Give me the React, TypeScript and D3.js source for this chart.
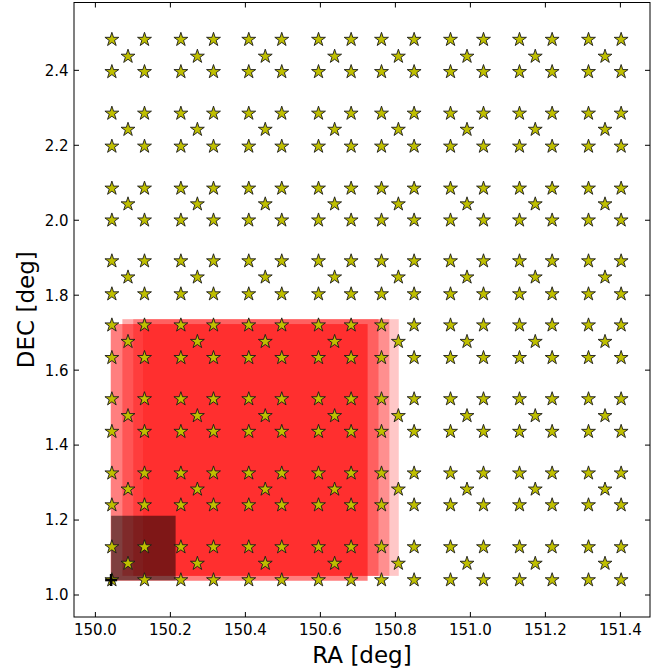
import React from "react";
import * as d3 from "d3";

// Star (pointing) positions: corner grid and centre (dithered) grid
const cornerRA = [150.044, 150.131, 150.228, 150.315, 150.409, 150.497, 150.595, 150.682, 150.763, 150.850, 150.947, 151.035, 151.131, 151.218, 151.315, 151.402];
const cornerDec = [1.040, 1.128, 1.240, 1.325, 1.436, 1.523, 1.633, 1.720, 1.803, 1.891, 2.000, 2.085, 2.197, 2.285, 2.396, 2.482];
const centerRA = [150.087, 150.272, 150.453, 150.638, 150.808, 150.991, 151.173, 151.359];
const centerDec = [1.084, 1.282, 1.478, 1.676, 1.848, 2.043, 2.242, 2.437];

// Red footprints: [raMin, raMax, decMin, decMax]
const footprints = [
  [150.041, 150.726, 1.038, 1.723],
  [150.072, 150.755, 1.051, 1.736],
  [150.101, 150.784, 1.051, 1.736],
  [150.127, 150.809, 1.051, 1.736],
];
const footprintAlpha = [0.5, 0.33, 0.28, 0.22];

// Dark box
const darkBox = [150.042, 150.214, 1.039, 1.2115];
// Cross marker
const crossPoint = [150.042, 1.040];

const xTicks = [150.0, 150.2, 150.4, 150.6, 150.8, 151.0, 151.2, 151.4];
const yTicks = [1.0, 1.2, 1.4, 1.6, 1.8, 2.0, 2.2, 2.4];

const W = 651, H = 672;
const L = 74, R = 650, T = 2.5, B = 617;

export default function App() {
  const x = d3.scaleLinear().domain([149.943, 151.479]).range([L, R]);
  const y = d3.scaleLinear().domain([0.9413, 2.581]).range([B, T]);
  const star = d3.symbol().type(d3.symbolStar).size(60)() as string;

  const stars: [number, number][] = [];
  cornerDec.forEach((d) => cornerRA.forEach((r) => stars.push([r, d])));
  centerDec.forEach((d) => centerRA.forEach((r) => stars.push([r, d])));

  const font = "DejaVu Sans, sans-serif";
  const cx = x(crossPoint[0]), cy = y(crossPoint[1]);

  return (
    <svg width={W} height={H} style={{ position: "absolute", left: 0, top: 0, background: "#fff" }} fontFamily={font}>
      <defs>
        <clipPath id="plot">
          <rect x={L} y={T} width={R - L} height={B - T} />
        </clipPath>
      </defs>
      <g clipPath="url(#plot)">
        {footprints.map((f, i) => (
          <rect key={i} x={x(f[0])} y={y(f[3])} width={x(f[1]) - x(f[0])} height={y(f[2]) - y(f[3])}
            fill="#ff0000" fillOpacity={footprintAlpha[i]} />
        ))}
        <rect x={x(darkBox[0])} y={y(darkBox[3])} width={x(darkBox[1]) - x(darkBox[0])} height={y(darkBox[2]) - y(darkBox[3])}
          fill="#000" fillOpacity={0.5} />
        {stars.map((s, i) => (
          <path key={i} d={star} transform={`translate(${x(s[0])},${y(s[1])})`} fill="#bfbf00" stroke="#1a1a1a" strokeWidth={0.9} strokeLinejoin="miter" />
        ))}
        <g stroke="#000" strokeWidth={2.6}>
          <line x1={cx - 6} x2={cx + 6} y1={cy} y2={cy} />
          <line x1={cx} x2={cx} y1={cy - 6} y2={cy + 6} />
        </g>
      </g>
      {/* spines */}
      <rect x={L} y={T} width={R - L} height={B - T} fill="none" stroke="#000" strokeWidth={1} />
      {/* ticks */}
      <g stroke="#000" strokeWidth={1}>
        {xTicks.map((t) => (
          <g key={t}>
            <line x1={x(t)} x2={x(t)} y1={B} y2={B - 5} />
            <line x1={x(t)} x2={x(t)} y1={T} y2={T + 5} />
          </g>
        ))}
        {yTicks.map((t) => (
          <g key={t}>
            <line x1={L} x2={L + 5} y1={y(t)} y2={y(t)} />
            <line x1={R} x2={R - 5} y1={y(t)} y2={y(t)} />
          </g>
        ))}
      </g>
      <g fontSize={15} fill="#000">
        {xTicks.map((t) => (
          <text key={t} x={x(t)} y={634.5} textAnchor="middle">{t.toFixed(1)}</text>
        ))}
        {yTicks.map((t) => (
          <text key={t} x={68.5} y={y(t)} dy="0.36em" textAnchor="end">{t.toFixed(1)}</text>
        ))}
      </g>
      <text x={(L + R) / 2} y={663} textAnchor="middle" fontSize={23}>RA [deg]</text>
      <text transform={`translate(33.5,${(T + B) / 2}) rotate(-90)`} textAnchor="middle" fontSize={23}>DEC [deg]</text>
    </svg>
  );
}
